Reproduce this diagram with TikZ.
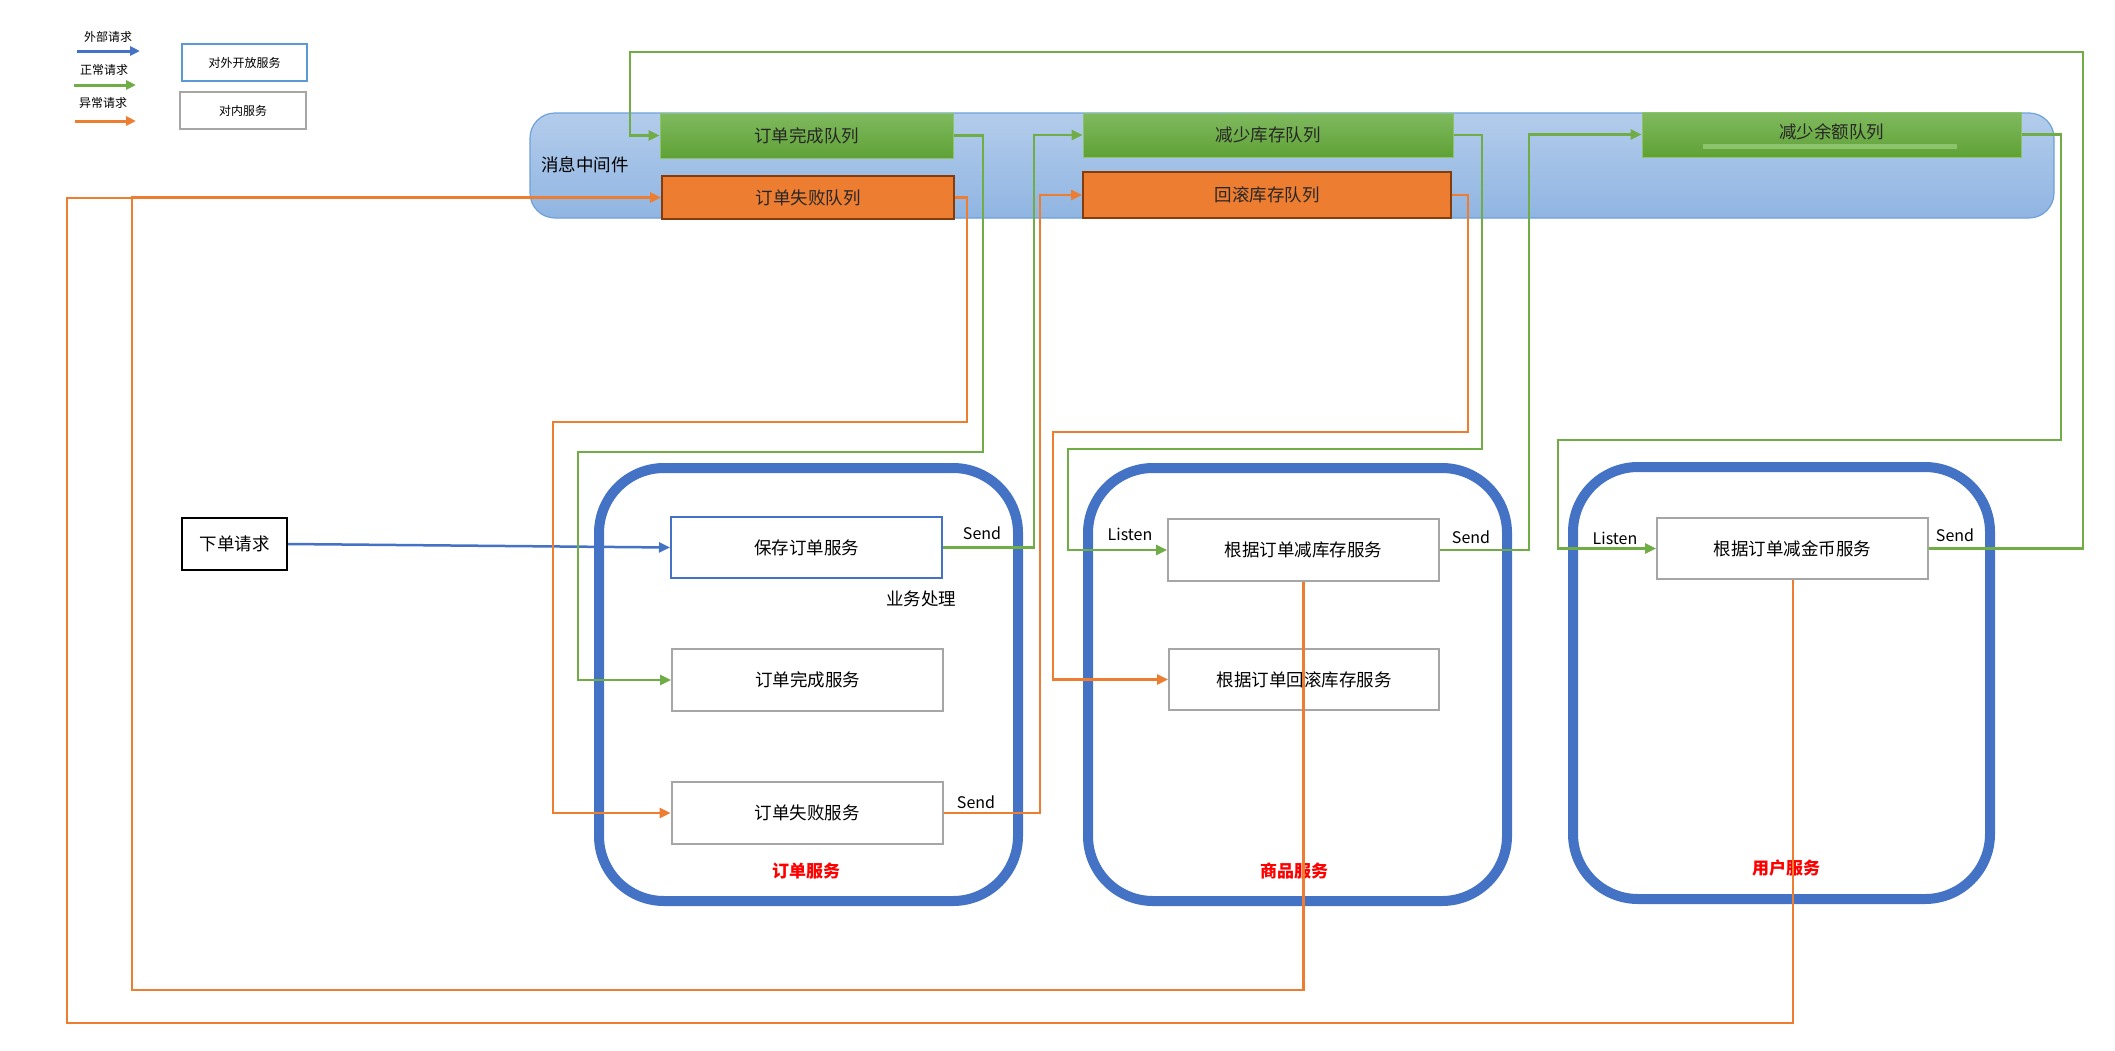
\documentclass[tikz,border=0pt]{standalone}
\usepackage{fontspec}
\setmainfont{Noto Sans CJK SC}
\usetikzlibrary{arrows.meta}
\definecolor{ublue}{HTML}{4472C4}
\definecolor{ugreen}{HTML}{70AD47}
\definecolor{uorange}{HTML}{ED7D31}
\definecolor{lblue}{HTML}{5B9BD5}
\definecolor{ugray}{HTML}{A6A6A6}
\definecolor{mwtop}{HTML}{B3CCEB}
\definecolor{mwbot}{HTML}{90B5E2}
\definecolor{mwbrd}{HTML}{6FA1DA}
\definecolor{gtop}{HTML}{80BA5F}
\definecolor{gbot}{HTML}{5FA136}
\definecolor{gbrd}{HTML}{8CC46C}
\definecolor{obrd}{HTML}{843C0C}
\tikzset{
 big/.style={font=\fontsize{17.5}{21}\selectfont},
 small/.style={font=\fontsize{12}{14}\selectfont},
 gq/.style={draw=gbrd, line width=1pt, top color=gtop, bottom color=gbot, inner sep=0pt, big, text=black!85},
 oq/.style={draw=obrd, line width=2pt, fill=uorange, inner sep=0pt, big, text=black!85},
 svc/.style={draw=ugray, line width=2pt, fill=white, inner sep=0pt, big},
 cont/.style={draw=ublue, line width=10pt, rounded corners=65pt, inner sep=0pt},
 tipa/.style={-{Triangle[length=11pt,width=10pt]}},
 garrow/.style={draw=ugreen, line width=2.5pt, tipa},
 oarrow/.style={draw=uorange, line width=2.5pt, tipa},
 oline/.style={draw=uorange, line width=2pt},
 barrow/.style={draw=ublue, line width=2.5pt, tipa},
 lbl/.style={big, inner sep=0pt},
 slbl/.style={font=\fontsize{16}{19}\selectfont, inner sep=0pt},
 redlbl/.style={font=\fontsize{17}{20}\selectfont\bfseries, text=red, inner sep=0pt},
}
\begin{document}
\begin{tikzpicture}[x=1pt,y=-1pt]
\useasboundingbox (0,0) rectangle (2115,1050);
% legend
\node[small, inner sep=0pt] (t1) at (108,37) {外部请求};
\node[small, inner sep=0pt] (t2) at (104,70) {正常请求};
\node[small, inner sep=0pt] (t3) at (103,103) {异常请求};
\coordinate (l1a) at (77,51); \coordinate (l1b) at (140,51);
\coordinate (l2a) at (74,85); \coordinate (l2b) at (136,85);
\coordinate (l3a) at (75,121); \coordinate (l3b) at (136,121);
\draw[barrow, line width=3pt, -{Triangle[length=10pt,width=9pt]}] (l1a) -- (l1b);
\draw[garrow, line width=3pt, -{Triangle[length=10pt,width=9pt]}] (l2a) -- (l2b);
\draw[oarrow, line width=3pt, -{Triangle[length=10pt,width=9pt]}] (l3a) -- (l3b);
\node[draw=lblue, line width=2pt, small, minimum width=125, minimum height=37, inner sep=0pt] (lb1) at (244.5,62.5) {对外开放服务};
\node[draw=ugray, line width=2pt, small, minimum width=126, minimum height=37, inner sep=0pt] (lb2) at (243,110.5) {对内服务};
% middleware
\node[draw=mwbrd, line width=1.2pt, top color=mwtop, bottom color=mwbot, rounded corners=25pt, minimum width=1524, minimum height=105, inner sep=0pt] (mw) at (1292,165.5) {};
\node[lbl] (mwt) at (585,165) {消息中间件};
\node[gq, minimum width=293, minimum height=45] (q1) at (806.5,135.5) {订单完成队列};
\node[oq, minimum width=292, minimum height=43] (q2) at (808,197.5) {订单失败队列};
\node[gq, minimum width=370, minimum height=44] (q3) at (1268,135) {减少库存队列};
\node[oq, minimum width=368, minimum height=46] (q4) at (1267,195) {回滚库存队列};
\node[gq, minimum width=379, minimum height=45] (q5) at (1831.5,134.5) {};
\fill[gbrd] (1703,144) rectangle (1957,149);
\node[lbl, text=black!85] (q5t) at (1831.5,132) {减少余额队列};
% containers
\node[cont, minimum width=419, minimum height=433] (c1) at (808.5,684.5) {};
\node[cont, minimum width=419, minimum height=433] (c2) at (1297.5,684.5) {};
\node[cont, minimum width=417, minimum height=432] (c3) at (1781.5,683) {};
% services
\node[draw=black, line width=2pt, big, minimum width=105, minimum height=52, inner sep=0pt] (req) at (234.5,544) {下单请求};
\node[svc, draw=ublue, minimum width=271, minimum height=61] (s1) at (806.5,547.5) {保存订单服务};
\node[svc, minimum width=271, minimum height=62] (s2) at (807.5,680) {订单完成服务};
\node[svc, minimum width=271, minimum height=62] (s3) at (807,813) {订单失败服务};
\node[svc, minimum width=271, minimum height=62] (s4) at (1303.5,550) {根据订单减库存服务};
\node[svc, minimum width=270, minimum height=61] (s5) at (1304,679.5) {根据订单回滚库存服务};
\node[svc, minimum width=271, minimum height=61] (s6) at (1792.5,548.5) {根据订单减金币服务};
% labels
\node[slbl] (la1) at (982,533) {Send};
\node[lbl] (la2) at (921,599) {业务处理};
\node[slbl] (la3) at (976,802) {Send};
\node[slbl] (la4) at (1130,534) {Listen};
\node[slbl] (la5) at (1471,537) {Send};
\node[slbl] (la6) at (1615,538) {Listen};
\node[slbl] (la7) at (1955,535) {Send};
\node[redlbl] (r1) at (806,871) {订单服务};
\node[redlbl] (r2) at (1294,871) {商品服务};
\node[redlbl] (r3) at (1786,868) {用户服务};
% connectors
\draw[barrow] (req.east) -- (s1.west);
\draw[garrow] (s6.east) -| (2083,52) -- (630,52) |- (q1.west);
\draw[garrow] (q1.east) -| (983,452) -- (578,452) |- (s2.west);
\draw[garrow] (s1.east) -| (1034,135) -- (q3.west);
\draw[garrow] (q3.east) -| (1482,449) -- (1068,449) |- (s4.west);
\draw[garrow] (s4.east) -| (1529,134.5) -- (q5.west);
\draw[garrow] (q5.east) -| (2061,440) -- (1558,440) |- (s6.west);
\draw[oarrow] (q2.east) -| (967,422) -- (553,422) |- (s3.west);
\draw[oarrow] (s3.east) -| (1040,195) -- (q4.west);
\draw[oarrow] (q4.east) -| (1468,432) -- (1053,432) |- (s5.west);
\coordinate (j) at (132,197.5);
\draw[oline] (s6.south) |- (67,1023) |- (j);
\draw[oarrow] (s4.south) |- (132,990) |- (q2.west);
\end{tikzpicture}
\end{document}
